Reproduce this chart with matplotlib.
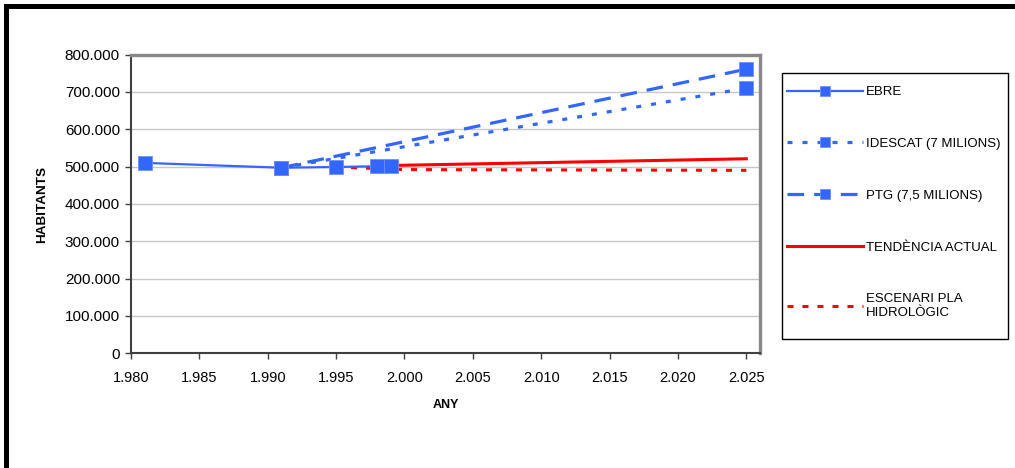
import matplotlib
matplotlib.use("Agg")
import matplotlib.pyplot as plt
from matplotlib.lines import Line2D
from matplotlib.patches import Rectangle
from matplotlib.ticker import FuncFormatter, MultipleLocator

plt.rcParams['font.family'] = ['Liberation Sans', 'DejaVu Sans']
plt.rcParams['lines.scale_dashes'] = False

# data
ebre_years = [1981, 1991, 1995, 1998, 1999]
ebre_vals = [510000, 497000, 499000, 501000, 502000]

idescat_years = [1991, 2025]
idescat_vals = [497000, 710000]

ptg_years = [1991, 2025]
ptg_vals = [497000, 761000]

tend_years = [1999, 2025]
tend_vals = [503000, 521000]

escen_years = [1995, 2000, 2025]
escen_vals = [499000, 492000, 490000]

labels = ["EBRE", "IDESCAT (7 MILIONS)", "PTG (7,5 MILIONS)",
          "TENDÈNCIA ACTUAL", "ESCENARI PLA\nHIDROLÒGIC"]

BLUE = '#3366FF'
RED = '#FF0000'

W, H = 1015, 468
fig = plt.figure(figsize=(W / 100, H / 100), dpi=100)
ax = fig.add_axes([131 / W, 1 - 353.3 / H, (760 - 131) / W, (353.3 - 54.6) / H])

mk = dict(marker='s', markersize=10.5, markerfacecolor=BLUE,
          markeredgecolor='#7090FF', markeredgewidth=0.6)

ax.plot(tend_years, tend_vals, color=RED, lw=2.2, label=labels[3], zorder=3)
ax.plot(escen_years, escen_vals, color=RED, lw=2.2, dashes=(4.3, 6.5),
        label=labels[4], zorder=3)
ax.plot(idescat_years, idescat_vals, color=BLUE, lw=2.3, dashes=(3.6, 7.2),
        label=labels[1], zorder=4, **mk)
ax.plot(ptg_years, ptg_vals, color=BLUE, lw=2.3, dashes=(12, 7.2),
        label=labels[2], zorder=4, **mk)
ax.plot(ebre_years, ebre_vals, color=BLUE, lw=1.6, label=labels[0],
        zorder=5, **mk)

ax.set_xlim(1980, 2026)
ax.set_ylim(0, 800000)
ax.xaxis.set_major_locator(MultipleLocator(5))
ax.yaxis.set_major_locator(MultipleLocator(100000))
dots = FuncFormatter(lambda v, p: f"{int(round(v)):,}".replace(',', '.'))
ax.xaxis.set_major_formatter(dots)
ax.yaxis.set_major_formatter(dots)

ax.grid(axis='y', color='#C8C8C8', lw=1.0, zorder=0)
ax.set_axisbelow(True)

for s in ['left', 'bottom']:
    ax.spines[s].set_color('#404040')
    ax.spines[s].set_linewidth(1.5)
for s in ['top', 'right']:
    ax.spines[s].set_color('#888888')
    ax.spines[s].set_linewidth(2.4)

ax.tick_params(axis='y', direction='out', length=4, width=1, color='#404040',
               labelsize=11, pad=4)
ax.tick_params(axis='x', direction='out', length=4, width=1, color='#404040',
               labelsize=10.5, pad=9)

ax.set_xlabel("ANY", fontsize=9, fontweight='bold', labelpad=10)
ax.set_ylabel("HABITANTS", fontsize=9.7, fontweight='bold', labelpad=12)

# legend in the order of the reference, box drawn separately
handles, labs = ax.get_legend_handles_labels()
order = [labs.index(l) for l in labels]
leg = fig.legend([handles[i] for i in order], [labs[i] for i in order],
                 loc='upper left', bbox_to_anchor=(786.5 / W, 1 - 86 / H),
                 fontsize=9.5, frameon=False, borderpad=0, handlelength=5.8,
                 handletextpad=0.23, labelspacing=3.0, markerscale=0.7,
                 borderaxespad=0)
fig.add_artist(Rectangle((781.5 / W, 1 - 339 / H), (1008 - 781.5) / W,
                         (339 - 72.5) / H, transform=fig.transFigure,
                         fill=False, edgecolor='black', lw=1.0))

# thick black outer border (top and left visible)
fig.add_artist(Line2D([6 / W, 1], [1 - 6 / H, 1 - 6 / H], color='black',
                      lw=3.6, transform=fig.transFigure,
                      solid_capstyle='projecting'))
fig.add_artist(Line2D([6 / W, 6 / W], [0, 1 - 6 / H], color='black',
                      lw=3.6, transform=fig.transFigure,
                      solid_capstyle='projecting'))

fig.savefig("out.png", dpi=100)
